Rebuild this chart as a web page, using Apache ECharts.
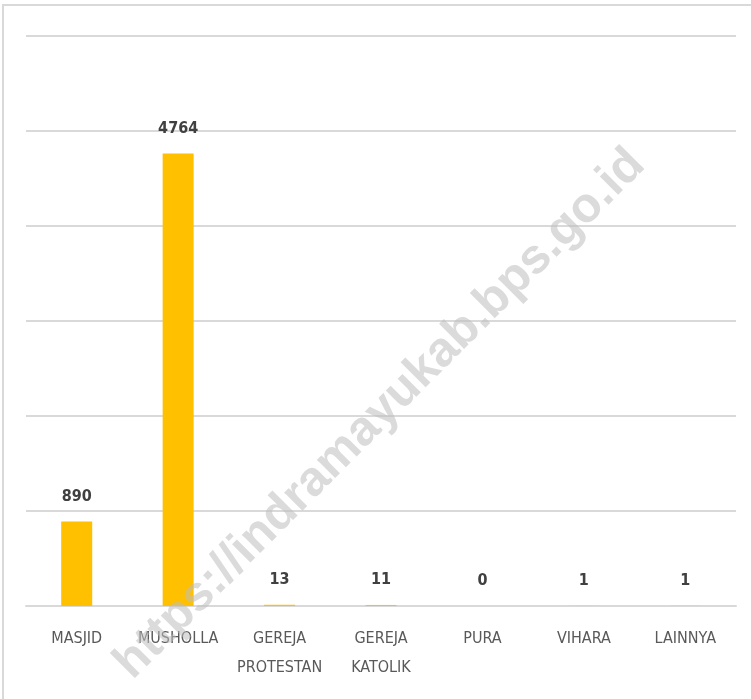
<!DOCTYPE html>
<html>
<head>
<meta charset="utf-8">
<script src="https://cdn.jsdelivr.net/npm/echarts@6/dist/echarts.min.js"></script>
<style>
  html, body { margin: 0; padding: 0; background: #fff; }
  #chart { width: 751px; height: 699px; }
</style>
</head>
<body>
<div id="chart"></div>
<script>
  // data
  var categories = ['MASJID', 'MUSHOLLA', 'GEREJA\nPROTESTAN', 'GEREJA\nKATOLIK', 'PURA', 'VIHARA', 'LAINNYA'];
  var counts = [890, 4764, 13, 11, 0, 1, 1];
  var watermark = 'https://indramayukab.bps.go.id';

  var fontFam = '"Liberation Sans Narrow", "DejaVu Sans Condensed", "Open Sans", sans-serif';

  var chart = echarts.init(document.getElementById('chart'));
  chart.setOption({
    animation: false,
    grid: { left: 26, right: 15, top: 36, bottom: 93 },
    xAxis: {
      type: 'category',
      data: categories,
      axisLine: { lineStyle: { color: '#d9d9d9', width: 2 } },
      axisTick: { show: false },
      axisLabel: {
        color: '#595959',
        fontSize: 16,
        fontFamily: fontFam,
        margin: 18,
        lineHeight: 29,
        interval: 0
      }
    },
    yAxis: {
      type: 'value',
      min: 0,
      max: 6000,
      interval: 1000,
      axisLabel: { show: false },
      axisLine: { show: false },
      axisTick: { show: false },
      splitLine: { lineStyle: { color: '#d9d9d9', width: 2 } }
    },
    series: [{
      type: 'bar',
      data: counts,
      barWidth: 31,
      itemStyle: { color: '#ffc000' },
      label: {
        show: true,
        position: 'top',
        distance: 17,
        color: '#404040',
        fontSize: 16,
        fontWeight: 'bold',
        fontFamily: fontFam
      }
    }],
    graphic: [
      {
        type: 'rect',
        z: 0,
        shape: { x: 3, y: 5, width: 760, height: 710 },
        style: { fill: 'none', stroke: '#d9d9d9', lineWidth: 2 }
      },
      {
        type: 'text',
        z: 100,
        x: 380,
        y: 414,
        rotation: Math.PI / 4,
        style: {
          text: watermark,
          fill: 'rgba(190,190,190,0.55)',
          font: 'bold 49px "Liberation Sans", Arial, sans-serif',
          align: 'center',
          verticalAlign: 'middle'
        }
      }
    ]
  });
</script>
</body>
</html>
